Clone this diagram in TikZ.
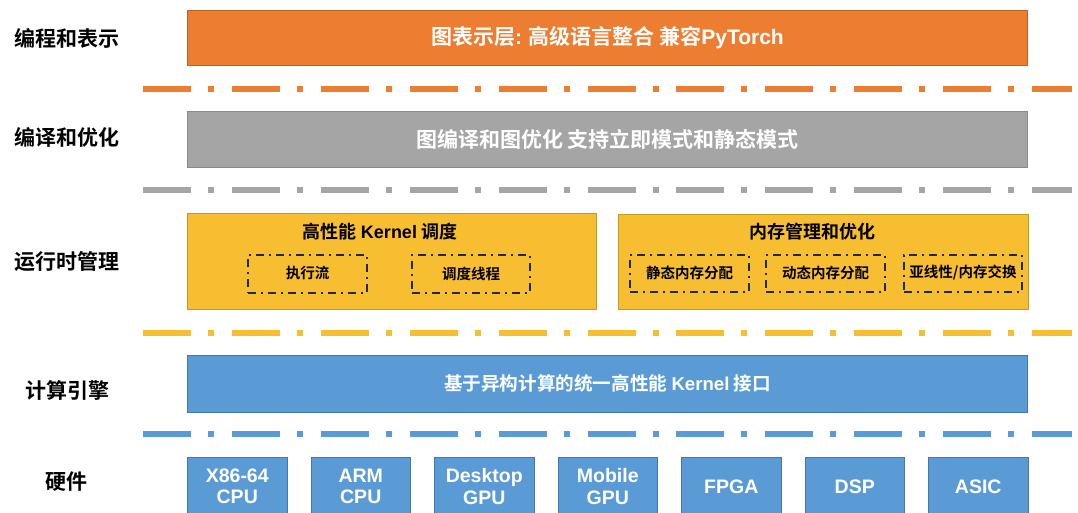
\documentclass[tikz,border=0pt]{standalone}
\usepackage{fontspec}
\setmainfont{Noto Sans CJK SC}[BoldFont={Noto Sans CJK SC Bold}]
\newfontfamily\latf{Liberation Sans}
\definecolor{orangeF}{HTML}{ED7D31}
\definecolor{orangeD}{HTML}{C0621F}
\definecolor{grayF}{HTML}{A5A5A5}
\definecolor{grayD}{HTML}{8A8A8A}
\definecolor{yellowF}{HTML}{F8BE32}
\definecolor{yellowD}{HTML}{C49B22}
\definecolor{blueF}{HTML}{5B9BD5}
\definecolor{blueD}{HTML}{4677A8}
\definecolor{darkL}{HTML}{1F2A36}
\begin{document}
\begin{tikzpicture}[x=1pt,y=-1pt,
  layer/.style={draw=#1, line width=1pt, inner sep=0pt, anchor=north west,
    text=white, font=\bfseries\fontsize{21}{24}\selectfont},
  rtbox/.style={fill=yellowF, draw=yellowD, line width=1pt, inner sep=0pt, anchor=north west},
  rttitle/.style={font=\bfseries\fontsize{18}{22}\selectfont, text=black, inner sep=0pt},
  subbox/.style={draw=darkL, line width=2pt, dash pattern=on 8pt off 5pt on 2pt off 5pt,
    inner sep=0pt, anchor=north west, font=\bfseries\fontsize{14.5}{18}\selectfont, text=black},
  lab/.style={font=\bfseries\fontsize{21}{24}\selectfont, text=black, inner sep=0pt},
  hw/.style={fill=blueF, draw=blueD, line width=1pt, inner sep=0pt, anchor=north west,
    minimum width=99.5pt, minimum height=58pt, align=center, text=white,
    font=\latf\bfseries\fontsize{19.5}{21.5}\selectfont},
  sep/.style={line width=6pt, dash pattern=on 48pt off 17pt on 6pt off 17.9pt}
]
\useasboundingbox (0,0) rectangle (1078,512);

% left labels
\node[lab] (l1) at (67,38) {编程和表示};
\node[lab] (l2) at (67,137) {编译和优化};
\node[lab] (l3) at (67,262) {运行时管理};
\node[lab] (l4) at (67,390) {计算引擎};
\node[lab] (l5) at (66,482) {硬件};

% layer 1
\node[layer=orangeD, fill=orangeF, minimum width=840pt, minimum height=55pt] (repr) at (187,10)
  {图表示层{\latf:} 高级语言整合 兼容{\latf PyTorch}};
\coordinate (s1a) at (143,88.5); \coordinate (s1b) at (1072,88.5);
\draw[sep, orangeF] (s1a) -- (s1b);

% layer 2
\node[layer=grayD, fill=grayF, minimum width=840pt, minimum height=56pt] (comp) at (187,111)
  {图编译和图优化 支持立即模式和静态模式};
\coordinate (s2a) at (143,190); \coordinate (s2b) at (1072,190);
\draw[sep, grayF] (s2a) -- (s2b);

% layer 3
\node[rtbox, minimum width=409pt, minimum height=96pt] (sched) at (187,212.5) {};
\node[rttitle] (schedt) at (380,232) {高性能 {\latf Kernel} 调度};
\node[subbox, minimum width=119pt, minimum height=38pt] (exe) at (247,253.5) {执行流};
\node[subbox, minimum width=118pt, minimum height=38pt] (thr) at (411,253.5) {调度线程};

\node[rtbox, minimum width=410pt, minimum height=95pt] (mem) at (618,214) {};
\node[rttitle] (memt) at (812,232) {内存管理和优化};
\node[subbox, minimum width=119pt, minimum height=37pt] (smem) at (629,253.5) {静态内存分配};
\node[subbox, minimum width=119pt, minimum height=37pt] (dmem) at (765,253.5) {动态内存分配};
\node[subbox, minimum width=118pt, minimum height=37pt] (swap) at (903,253.5) {亚线性/内存交换};
\coordinate (s3a) at (143,333); \coordinate (s3b) at (1072,333);
\draw[sep, yellowF] (s3a) -- (s3b);

% layer 4
\node[layer=blueD, fill=blueF, minimum width=840pt, minimum height=56.5pt,
  font=\bfseries\fontsize{18.6}{22}\selectfont] (kern) at (187,355)
  {基于异构计算的统一高性能 {\latf Kernel} 接口};
\coordinate (s4a) at (143,434); \coordinate (s4b) at (1072,434);
\draw[sep, blueF] (s4a) -- (s4b);

% hardware
\node[hw] (x86) at (187,457) {X86-64\\CPU};
\node[hw] (arm) at (310.5,457) {ARM\\CPU};
\node[hw] (dgpu) at (434,457) {Desktop\\GPU};
\node[hw] (mgpu) at (557.5,457) {Mobile\\GPU};
\node[hw] (fpga) at (681,457) {FPGA};
\node[hw] (dsp) at (804.5,457) {DSP};
\node[hw] (asic) at (928,457) {ASIC};
\end{tikzpicture}
\end{document}
